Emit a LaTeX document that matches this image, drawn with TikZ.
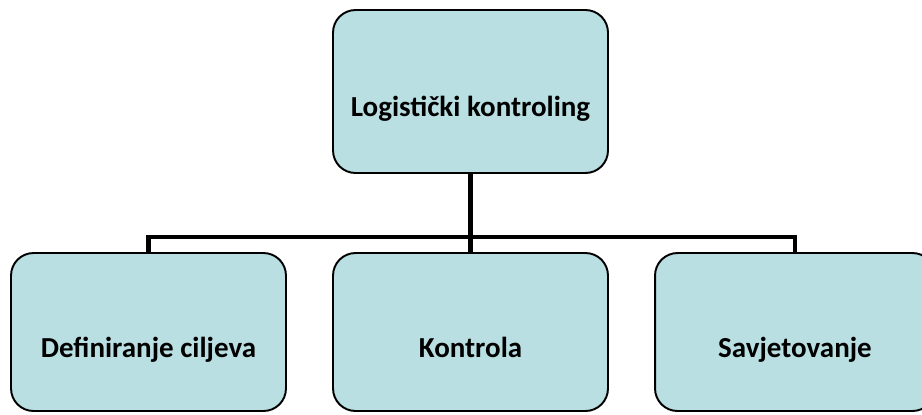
\documentclass[tikz,border=0pt]{standalone}
\usepackage{fontspec}
\setmainfont{Carlito}
\usepackage{tikz}
\usetikzlibrary{positioning, calc}

\definecolor{boxfill}{RGB}{185,223,226}

\begin{document}
\begin{tikzpicture}[
      x=0.02cm, y=-0.02cm,
      unit/.style={draw=black, line width=1.1pt, fill=boxfill, rounded corners=0.45cm,
        minimum width=5.5cm, font=\fontsize{16.5}{20}\selectfont\bfseries,
        text height=1.1cm, text depth=0.1cm, inner sep=0pt},
      link/.style={draw=black, line width=2.4pt}
    ]
      % Canvas
      \useasboundingbox (0,0) rectangle (922,414);
      \clip (0,0) rectangle (922,414);

      % Top box
      \node[unit, minimum height=3.26cm] (kontroling) at (470.5,91.5) {Logistički kontroling};

      % Bottom boxes
      \node[unit, minimum height=3.16cm] (ciljevi) at (148.5,332) {Definiranje ciljeva};
      \node[unit, minimum height=3.16cm] (kontrola) at (470.5,332) {Kontrola};
      \node[unit, minimum height=3.16cm, minimum width=5.6cm] (savjet) at (795,332) {Savjetovanje};

      % Connectors
      \coordinate (hub) at (470.5,237);
      \draw[link] (kontroling.south) -- (hub);
      \draw[link] (hub) -| (ciljevi.north);
      \draw[link] (hub) -| (savjet.north);
      \draw[link] (hub) -- (kontrola.north);
    \end{tikzpicture}
\end{document}
